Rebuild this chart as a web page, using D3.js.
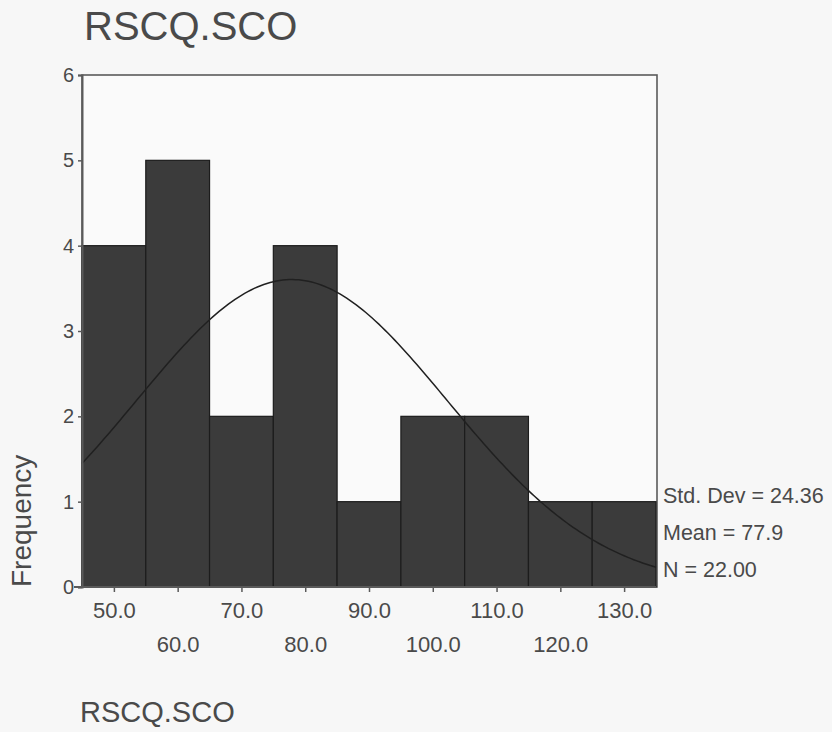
<!DOCTYPE html>
<html>
<head>
<meta charset="utf-8">
<script src="https://cdn.jsdelivr.net/npm/d3@7"></script>
<style>
  body { margin: 0; background: #f7f7f7; }
  svg text { font-family: "Liberation Sans", Arial, sans-serif; fill: #4a4a4a; }
</style>
</head>
<body>
<svg class="hist" width="832" height="732"></svg>
<script>
// histogram data (bin centres and counts)
var binCenters = [50, 60, 70, 80, 90, 100, 110, 120, 130];
var frequencies = [4, 5, 2, 4, 1, 2, 2, 1, 1];
var binWidth = 10;

// tick labels
var yTicks = [0, 1, 2, 3, 4, 5, 6];
var xTicks = [50, 60, 70, 80, 90, 100, 110, 120, 130];

// summary stats shown at the right
var stdDev = 24.36;
var mean = 77.9;
var count = 22;
var statLabels = ["Std. Dev = 24.36", "Mean = 77.9", "N = 22.00"];

var svg = d3.select("svg.hist");

// scales
var x = d3.scaleLinear().domain([45, 135]).range([82, 656]);
var y = d3.scaleLinear().domain([0, 6]).range([587, 75]);

// plot frame
svg.append("rect")
    .attr("x", x(45))
    .attr("y", y(6))
    .attr("width", 657 - x(45))
    .attr("height", y(0) - y(6))
    .attr("fill", "#fafafa")
    .attr("stroke", "#5a5a5a")
    .attr("stroke-width", 1.6);

// bars
svg.selectAll("rect.bar")
    .data(frequencies)
    .enter()
    .append("rect")
    .attr("class", "bar")
    .attr("x", function(d, i) { return x(binCenters[i] - binWidth / 2); })
    .attr("y", function(d) { return y(d); })
    .attr("width", function(d, i) { return x(binCenters[i] + binWidth / 2) - x(binCenters[i] - binWidth / 2); })
    .attr("height", function(d) { return y(0) - y(d); })
    .attr("fill", "#3b3b3b")
    .attr("stroke", "#1c1c1c")
    .attr("stroke-width", 1.2);

// fitted normal curve from the stats
var curveData = d3.range(45, 135.01, 0.5).map(function(v) {
    var z = (v - mean) / stdDev;
    return [v, count * binWidth / (stdDev * Math.sqrt(2 * Math.PI)) * Math.exp(-0.5 * z * z)];
});

svg.append("path")
    .datum(curveData)
    .attr("d", d3.line()
        .x(function(d) { return x(d[0]); })
        .y(function(d) { return y(d[1]); }))
    .attr("fill", "none")
    .attr("stroke", "#202020")
    .attr("stroke-width", 1.5);

// y axis
var yAxis = svg.append("g")
    .attr("transform", "translate(" + x(45) + ",0)")
    .call(d3.axisLeft(y).tickValues(yTicks).tickSize(4).tickPadding(4).tickFormat(d3.format("d")));
yAxis.select(".domain").attr("stroke", "#5a5a5a").attr("stroke-width", 2);
yAxis.selectAll(".tick line").attr("stroke", "#5a5a5a").attr("stroke-width", 1.5);
yAxis.selectAll(".tick text").style("font-size", "20px").style("fill", "#4a4a4a");

// x axis, labels on two alternating rows
var xAxis = svg.append("g")
    .attr("transform", "translate(0," + y(0) + ")")
    .call(d3.axisBottom(x).tickValues(xTicks).tickSize(5).tickSizeOuter(0)
        .tickFormat(function(d) { return d3.format(".1f")(d); }));
xAxis.select(".domain").attr("stroke", "#5a5a5a").attr("stroke-width", 2)
    .attr("d", "M" + (x(45) - 8) + ",0H" + x(135));
xAxis.selectAll(".tick line").attr("stroke", "#5a5a5a").attr("stroke-width", 1.5);
xAxis.selectAll(".tick text")
    .style("font-size", "22px")
    .attr("dy", null)
    .attr("y", function(d, i) { return i % 2 == 0 ? 31 : 65; })
    .style("fill", "#4a4a4a");

// titles
svg.append("text")
    .attr("x", 84)
    .attr("y", 40)
    .style("font-size", "40px")
    .text("RSCQ.SCO");

svg.append("text")
    .attr("x", 80)
    .attr("y", 722)
    .style("font-size", "29px")
    .text("RSCQ.SCO");

svg.append("text")
    .attr("transform", "translate(31,587) rotate(-90)")
    .style("font-size", "28px")
    .text("Frequency");

// stats block
svg.selectAll("text.stat")
    .data(statLabels)
    .enter()
    .append("text")
    .attr("class", "stat")
    .attr("x", 663)
    .attr("y", function(d, i) { return 503 + i * 37; })
    .style("font-size", "21.5px")
    .text(function(d) { return d; });
</script>
</body>
</html>
